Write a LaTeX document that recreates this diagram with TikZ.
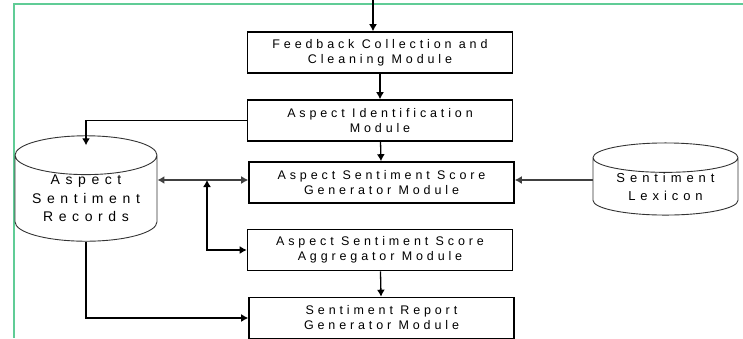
\documentclass[tikz,border=0pt]{standalone}
\usepackage{fontspec}
\setmainfont{Liberation Sans}
\usetikzlibrary{shapes.geometric,arrows.meta}
\definecolor{framegreen}{RGB}{96,204,150}
\tikzset{
  module/.style={draw, line width=1.6pt, minimum width=265pt, minimum height=41pt,
    align=center, inner sep=0pt,
    font=\fontsize{12.5}{15}\selectfont\addfontfeatures{LetterSpace=31}},
  store/.style={draw=black!80, cylinder, shape border rotate=90, line width=0.9pt,
    anchor=shape center, align=center, inner sep=0pt},
  flow/.style={-{Latex[length=7pt,width=8pt]}, line width=1.3pt},
  twoway/.style={{Latex[length=7pt,width=8pt]}-{Latex[length=7pt,width=8pt]}, line width=1.3pt},
}
\begin{document}
\begin{tikzpicture}[x=1pt,y=-1pt]
  \useasboundingbox (0,0) rectangle (743,338);
  \draw[framegreen, line width=1.5pt] (743,4) -- (14,4) -- (14,338);

  \node[module] (fb)  at (380,52.5)  {Feedback Collection and\\Cleaning Module};
  \node[module] (aid) at (380,120.5) {Aspect Identification\\Module};
  \node[module] (gen) at (381.5,182.5) {Aspect Sentiment Score\\Generator Module};
  \node[module] (agg) at (380,250)   {Aspect Sentiment Score\\Aggregator Module};
  \node[module] (rep) at (381.5,318) {Sentiment Report\\Generator Module};

  \node[store, minimum width=142pt, minimum height=103pt, aspect=0.36,
    font=\fontsize{14}{18.5}\selectfont\addfontfeatures{LetterSpace=40}] (recs) at (86,188.5)
    {Aspect\\Sentiment\\Records};
  \node[store, minimum width=145pt, minimum height=68pt, aspect=0.3,
    font=\fontsize{13}{18}\selectfont\addfontfeatures{LetterSpace=38}] (lex) at (665.5,179)
    {Sentiment\\Lexicon};

  \coordinate (in) at (373,0);
  \coordinate (jn) at (207,180);

  \draw[flow] (in) -- (in |- fb.north);
  \draw[flow] (fb) -- (aid);
  \draw[flow] (aid) -- (gen);
  \draw[flow] (agg) -- (rep);
  \draw[flow] (aid.west) -| ([yshift=-10pt]recs.top);
  \draw[twoway, black!75] (recs.east |- jn) -- (jn -| gen.west);
  \draw[twoway] (jn) |- (agg.west);
  \draw[flow, black!75] (lex.west |- jn) -- (jn -| gen.east);
  \draw[flow] (recs.bottom) |- (rep.west);
\end{tikzpicture}
\end{document}
